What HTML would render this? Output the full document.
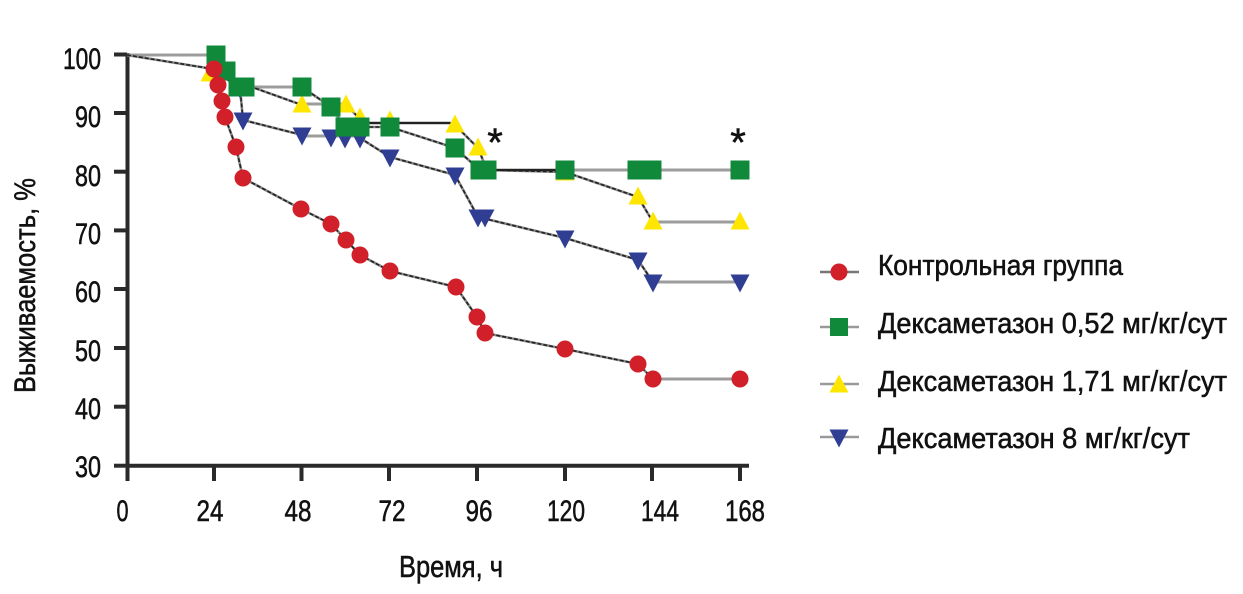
<!DOCTYPE html>
<html><head><meta charset="utf-8"><style>
html,body{margin:0;padding:0;background:#fff;}
svg{display:block;}
text{font-family:"Liberation Sans",sans-serif;fill:#111;stroke:#111;stroke-width:0.55;}
</style></head><body>
<svg width="1243" height="594" viewBox="0 0 1243 594" xmlns="http://www.w3.org/2000/svg">
<!-- axes -->
<g stroke="#2a2a2a" stroke-width="4" fill="none">
<line x1="127.5" y1="53" x2="127.5" y2="467.5"/>
<line x1="125.5" y1="465.7" x2="749" y2="465.7"/>
<line x1="114" y1="54.5" x2="127" y2="54.5"/>
<line x1="114" y1="113" x2="127" y2="113"/>
<line x1="114" y1="171.7" x2="127" y2="171.7"/>
<line x1="114" y1="230.4" x2="127" y2="230.4"/>
<line x1="114" y1="289" x2="127" y2="289"/>
<line x1="114" y1="348" x2="127" y2="348"/>
<line x1="114" y1="406.7" x2="127" y2="406.7"/>
<line x1="114" y1="465.7" x2="127" y2="465.7"/>
<line x1="127.5" y1="466" x2="127.5" y2="481"/>
<line x1="214" y1="466" x2="214" y2="481"/>
<line x1="301.5" y1="466" x2="301.5" y2="481"/>
<line x1="389" y1="466" x2="389" y2="481"/>
<line x1="477" y1="466" x2="477" y2="481"/>
<line x1="565" y1="466" x2="565" y2="481"/>
<line x1="652" y1="466" x2="652" y2="481"/>
<line x1="740" y1="466" x2="740" y2="481"/>
</g>
<!-- y tick labels -->
<g font-size="30" text-anchor="end">
<text x="101" y="69" textLength="38" lengthAdjust="spacingAndGlyphs">100</text>
<text x="101" y="127" textLength="26" lengthAdjust="spacingAndGlyphs">90</text>
<text x="101" y="186" textLength="26" lengthAdjust="spacingAndGlyphs">80</text>
<text x="101" y="244" textLength="26" lengthAdjust="spacingAndGlyphs">70</text>
<text x="101" y="302" textLength="26" lengthAdjust="spacingAndGlyphs">60</text>
<text x="101" y="361" textLength="26" lengthAdjust="spacingAndGlyphs">50</text>
<text x="101" y="419" textLength="26" lengthAdjust="spacingAndGlyphs">40</text>
<text x="101" y="477" textLength="26" lengthAdjust="spacingAndGlyphs">30</text>
</g>
<!-- x tick labels -->
<g font-size="30">
<text x="116.5" y="521" textLength="12" lengthAdjust="spacingAndGlyphs">0</text>
<text x="196.5" y="521" textLength="27" lengthAdjust="spacingAndGlyphs">24</text>
<text x="284.5" y="521" textLength="27" lengthAdjust="spacingAndGlyphs">48</text>
<text x="378.5" y="521" textLength="27" lengthAdjust="spacingAndGlyphs">72</text>
<text x="465.5" y="521" textLength="27" lengthAdjust="spacingAndGlyphs">96</text>
<text x="547" y="521" textLength="38" lengthAdjust="spacingAndGlyphs">120</text>
<text x="641" y="521" textLength="38" lengthAdjust="spacingAndGlyphs">144</text>
<text x="725" y="521" textLength="40" lengthAdjust="spacingAndGlyphs">168</text>
</g>
<!-- axis titles -->
<text x="399" y="577" font-size="31" textLength="104" lengthAdjust="spacingAndGlyphs">Время, ч</text>
<text transform="translate(35,393) rotate(-90)" x="0" y="0" font-size="30" textLength="215" lengthAdjust="spacingAndGlyphs">Выживаемость, %</text>
<!-- asterisks -->
<text x="495" y="156" font-size="40" text-anchor="middle">*</text>
<text x="738" y="156" font-size="40" text-anchor="middle">*</text>

<!-- gray horizontal segments -->
<g stroke="#9c9c9c" stroke-width="3" fill="none">
<line x1="127" y1="55" x2="216" y2="55"/>
<line x1="245" y1="87" x2="302" y2="87"/>
<line x1="302" y1="104" x2="346" y2="104"/>
<line x1="302" y1="136" x2="360" y2="136"/>
<line x1="565" y1="170" x2="740" y2="170"/>
<line x1="653" y1="222" x2="740" y2="222"/>
<line x1="653" y1="282" x2="740" y2="282"/>
<line x1="653" y1="379" x2="740" y2="379"/>
</g>
<!-- dark connecting lines -->
<g stroke="#8a8a8a" stroke-width="2.6" fill="none" stroke-linejoin="round">
<polyline points="127,55 213,69 217,85 221,101 225,117 236,147 243,178 301,209 331,224 346,240 360,255 390,271 456,287 477,317 485,333 565,349 638,364 653,379"/>
<polyline points="216,55 226,71 238,87"/>
<polyline points="302,87 331,107 345,127 390,127 455,148 480,170 565,170"/>
<polyline points="210,72 302,105"/>
<polyline points="346,105 360,119 370,123 450,123 455,125 478,148 487,170 565,172 638,197 653,222"/>
<polyline points="213,70 240,88 243,120 302,135"/>
<polyline points="360,138 390,157 455,175 478,217 565,238 638,260 653,282"/>
</g>
<g stroke="#222" stroke-width="1.6" fill="none" stroke-dasharray="4 2" stroke-linejoin="round">
<polyline points="127,55 213,69 217,85 221,101 225,117 236,147 243,178 301,209 331,224 346,240 360,255 390,271 456,287 477,317 485,333 565,349 638,364 653,379"/>
<polyline points="216,55 226,71 238,87"/>
<polyline points="302,87 331,107 345,127 390,127 455,148 480,170 565,170"/>
<polyline points="210,72 302,105"/>
<polyline points="346,105 360,119 370,123 450,123 455,125 478,148 487,170 565,172 638,197 653,222"/>
<polyline points="213,70 240,88 243,120 302,135"/>
<polyline points="360,138 390,157 455,175 478,217 565,238 638,260 653,282"/>
</g>
<line x1="370" y1="123" x2="450" y2="123" stroke="#222" stroke-width="2.2"/>
<line x1="487" y1="170" x2="565" y2="170" stroke="#222" stroke-width="2.2"/>

<defs>
<path id="tu" d="M0,-10.5 L9.5,7.5 L-9.5,7.5 Z"/>
<path id="td" d="M0,10.5 L9.5,-7.5 L-9.5,-7.5 Z"/>
</defs>
<!-- blue -->
<g fill="#2f3e93">
<use href="#td" x="240" y="88"/>
<use href="#td" x="243" y="120"/>
<use href="#td" x="302" y="135"/>
<use href="#td" x="331" y="137"/>
<use href="#td" x="345" y="138"/>
<use href="#td" x="360" y="138"/>
<use href="#td" x="390" y="157"/>
<use href="#td" x="455" y="175"/>
<use href="#td" x="478" y="217"/>
<use href="#td" x="485" y="217"/>
<use href="#td" x="565" y="238"/>
<use href="#td" x="638" y="260"/>
<use href="#td" x="653" y="282"/>
<use href="#td" x="740" y="282"/>
</g>
<!-- yellow -->
<g fill="#ffe600">
<use href="#tu" x="210" y="74"/>
<use href="#tu" x="302" y="105"/>
<use href="#tu" x="346" y="105"/>
<use href="#tu" x="360" y="118"/>
<use href="#tu" x="390" y="121"/>
<use href="#tu" x="455" y="125"/>
<use href="#tu" x="478" y="148"/>
<use href="#tu" x="487" y="172"/>
<use href="#tu" x="565" y="173"/>
<use href="#tu" x="638" y="197"/>
<use href="#tu" x="653" y="222"/>
<use href="#tu" x="740" y="222"/>
</g>
<!-- green -->
<g fill="#10893b">
<rect x="206.5" y="45.5" width="19" height="19"/>
<rect x="216.5" y="61.5" width="19" height="19"/>
<rect x="228.5" y="77.5" width="19" height="19"/>
<rect x="235.5" y="77.5" width="19" height="19"/>
<rect x="292.5" y="77.5" width="19" height="19"/>
<rect x="321.5" y="97.5" width="19" height="19"/>
<rect x="335.5" y="117.5" width="19" height="19"/>
<rect x="350.5" y="117.5" width="19" height="19"/>
<rect x="380.5" y="117.5" width="19" height="19"/>
<rect x="445.5" y="138.5" width="19" height="19"/>
<rect x="470.5" y="160.5" width="19" height="19"/>
<rect x="477.5" y="160.5" width="19" height="19"/>
<rect x="555.5" y="160.5" width="19" height="19"/>
<rect x="627.5" y="160.5" width="19" height="19"/>
<rect x="642.5" y="160.5" width="19" height="19"/>
<rect x="730.5" y="160.5" width="19" height="19"/>
</g>
<!-- red -->
<g fill="#d2202a">
<circle cx="214" cy="69" r="8.5"/>
<circle cx="218" cy="85" r="8.5"/>
<circle cx="222" cy="101" r="8.5"/>
<circle cx="225" cy="117" r="8.5"/>
<circle cx="236" cy="147" r="8.5"/>
<circle cx="243" cy="178" r="8.5"/>
<circle cx="301" cy="209" r="8.5"/>
<circle cx="331" cy="224" r="8.5"/>
<circle cx="346" cy="240" r="8.5"/>
<circle cx="360" cy="255" r="8.5"/>
<circle cx="390" cy="271" r="8.5"/>
<circle cx="456" cy="287" r="8.5"/>
<circle cx="477" cy="317" r="8.5"/>
<circle cx="485" cy="333" r="8.5"/>
<circle cx="565" cy="349" r="8.5"/>
<circle cx="638" cy="364" r="8.5"/>
<circle cx="653" cy="379" r="8.5"/>
<circle cx="740" cy="379" r="8.5"/>
</g>

<!-- legend -->
<g stroke-width="2.5">
<line x1="820" y1="272" x2="859" y2="272" stroke="#777"/>
<line x1="820" y1="327" x2="859" y2="327" stroke="#999"/>
<line x1="820" y1="384" x2="859" y2="384" stroke="#999"/>
<line x1="820" y1="437" x2="859" y2="437" stroke="#999"/>
</g>
<circle cx="839" cy="272" r="8.5" fill="#d2202a"/>
<rect x="830" y="318" width="18" height="18" fill="#10893b"/>
<use href="#tu" x="839" y="385" fill="#ffe600"/>
<use href="#td" x="839" y="437" fill="#2f3e93"/>
<g font-size="28.5">
<text x="878" y="275" textLength="245" lengthAdjust="spacingAndGlyphs">Контрольная группа</text>
<text x="878" y="333" textLength="349" lengthAdjust="spacingAndGlyphs">Дексаметазон 0,52 мг/кг/сут</text>
<text x="878" y="391" textLength="349" lengthAdjust="spacingAndGlyphs">Дексаметазон 1,71 мг/кг/сут</text>
<text x="878" y="448" textLength="312" lengthAdjust="spacingAndGlyphs">Дексаметазон 8 мг/кг/сут</text>
</g>
</svg>
</body></html>
